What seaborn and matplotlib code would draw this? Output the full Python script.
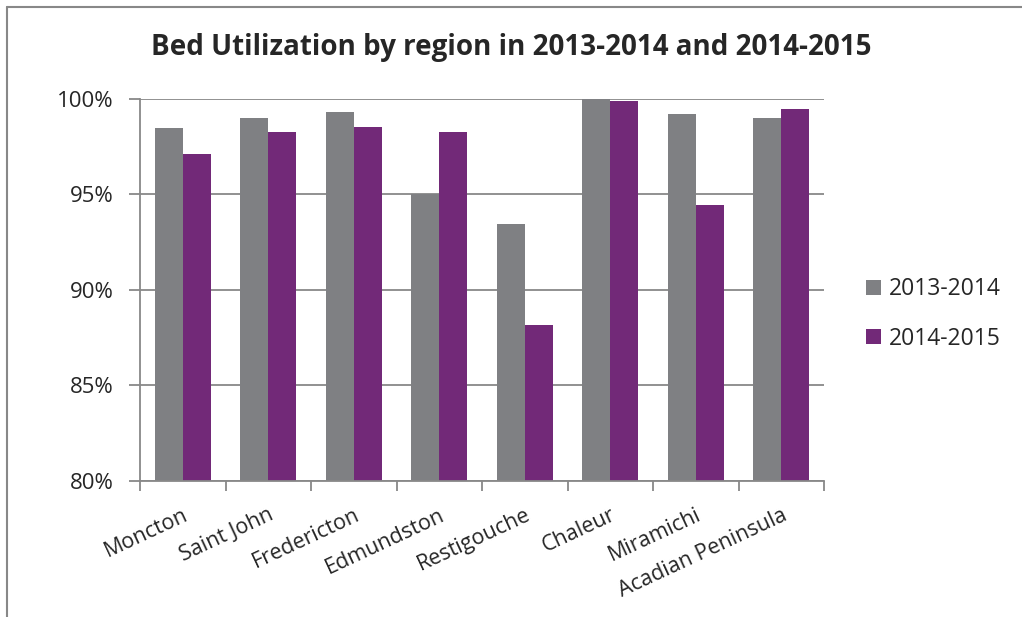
import numpy as np
import pandas as pd
import matplotlib
matplotlib.use("Agg")
import matplotlib.pyplot as plt
from matplotlib.lines import Line2D
from matplotlib.ticker import FuncFormatter
import seaborn as sns

# data
regions = ["Moncton", "Saint John", "Fredericton", "Edmundston",
           "Restigouche", "Chaleur", "Miramichi", "Acadian Peninsula"]
util_2013_2014 = [98.50, 98.99, 99.30, 95.04, 93.44, 100.0, 99.23, 99.02]
util_2014_2015 = [97.12, 98.27, 98.52, 98.29, 88.18, 99.90, 94.43, 99.48]
periods = ["2013-2014", "2014-2015"]
colors = ["#7f8083", "#722978"]

df = pd.DataFrame({
    "region": regions * 2,
    "period": [periods[0]] * len(regions) + [periods[1]] * len(regions),
    "value": util_2013_2014 + util_2014_2015,
})

sns.set_theme(style="white")
plt.rcParams["font.family"] = ["Open Sans", "DejaVu Sans"]

fig = plt.figure(figsize=(10.22, 6.17), dpi=100)
ax = fig.add_axes([140 / 1022, 1 - 481 / 617, (824 - 140) / 1022, (481 - 99) / 617])

sns.barplot(data=df, x="region", y="value", hue="period", palette=colors,
            width=0.655, gap=0, ax=ax, saturation=1, edgecolor="none")

ax.set_ylim(80, 100)
ax.set_xlim(-0.5, len(regions) - 0.5)
ax.set_yticks([80, 85, 90, 95, 100])
ax.yaxis.set_major_formatter(FuncFormatter(lambda v, p: f"{v:.0f}%"))
ax.yaxis.grid(True, color="#888888", linewidth=1.3)
ax.set_axisbelow(True)
ax.set_xlabel("")
ax.set_ylabel("")

# x ticks at category boundaries, labels at centers
ax.set_xticks(np.arange(-0.5, len(regions), 1.0))
ax.set_xticklabels([])
ax.set_xticks(np.arange(len(regions)), minor=True)
ax.set_xticklabels(regions, minor=True, rotation=25, ha="right",
                   rotation_mode="anchor", fontsize=15.5)
ax.tick_params(axis="x", which="major", length=7, width=1.3, color="#888888",
               direction="out", bottom=True)
ax.tick_params(axis="x", which="minor", length=0, pad=17)
ax.tick_params(axis="y", length=8, width=1.3, color="#888888", direction="out",
               left=True, labelsize=16, pad=11)

for side in ["top", "right"]:
    ax.spines[side].set_visible(False)
for side in ["left", "bottom"]:
    ax.spines[side].set_color("#888888")
    ax.spines[side].set_linewidth(1.3)

ax.legend(title=None, frameon=False, loc="center left",
          bbox_to_anchor=(1.061, 0.437), fontsize=16.5, handlelength=0.65,
          handleheight=0.65, labelspacing=1.1, handletextpad=0.35,
          borderpad=0, borderaxespad=0)

fig.text(0.5, 1 - 47 / 617, "Bed Utilization by region in 2013-2014 and 2014-2015",
         ha="center", va="center", fontsize=20, fontweight="bold")

# outer chart border (only top and left edges visible)
fig.add_artist(Line2D([7 / 1022, 1.0], [1 - 7 / 617, 1 - 7 / 617],
                      transform=fig.transFigure, color="#888888", linewidth=1.5))
fig.add_artist(Line2D([7 / 1022, 7 / 1022], [0.0, 1 - 7 / 617],
                      transform=fig.transFigure, color="#888888", linewidth=1.5))

fig.savefig("out.png", dpi=100)
